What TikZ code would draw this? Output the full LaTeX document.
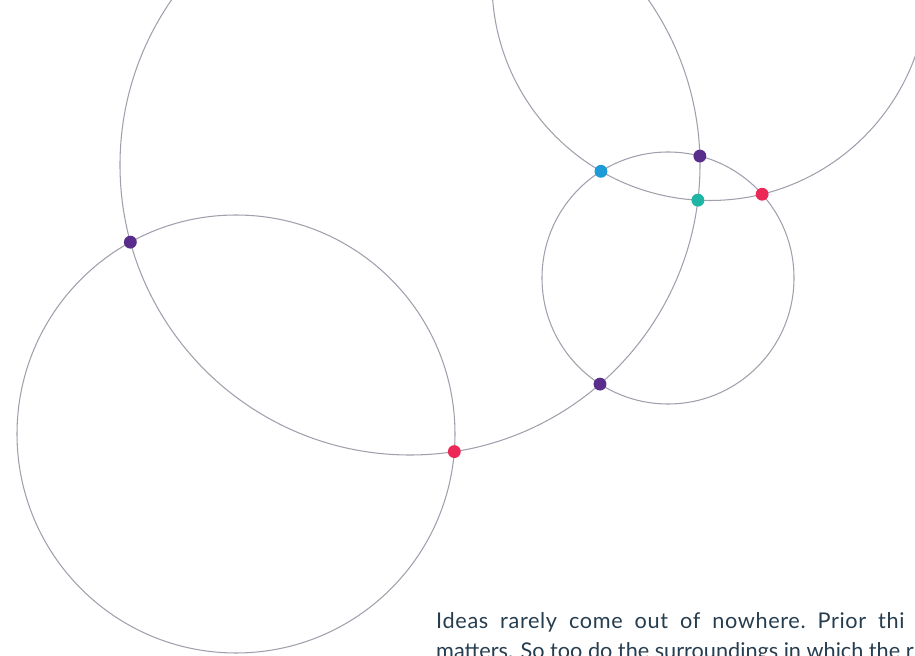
\documentclass[tikz,border=0pt]{standalone}
\usepackage{fontspec}
\usepackage{tikz}
\usetikzlibrary{intersections}
\newfontfamily\bodyfont{Lato}
\newfontfamily\bodywide{Lato}[LetterSpace=3]

\definecolor{ringgray}{HTML}{9FA0AC}
\definecolor{dotpurple}{HTML}{5A2D8C}
\definecolor{dotblue}{HTML}{1E9BD7}
\definecolor{dotteal}{HTML}{1FB5A5}
\definecolor{dotred}{HTML}{EC2956}
\definecolor{inkslate}{HTML}{263D4F}

\begin{document}
\begin{tikzpicture}[x=0.03cm, y=-0.03cm,
  ring/.style={draw=ringgray, line width=0.9pt},
  dot/.style={circle, inner sep=0pt, minimum size=11pt},
  textline/.style={anchor=base west, inner sep=0pt, text=inkslate, font=\bodyfont\fontsize{18.5}{23}\selectfont}]
\useasboundingbox (0,0) rectangle (915,656);
\clip (0,0) rectangle (915,656);

% four overlapping rings
\draw[ring, name path=lower] (236,434) circle[radius=219];
\draw[ring, name path=big] (410,165) circle[radius=290];
\draw[ring, name path=small] (668,278) circle[radius=126];
\draw[ring, name path=upper] (710,-17.5) circle[radius=218];

% crossing points
\path[name intersections={of=lower and big, name=lb}];
\path[name intersections={of=big and small, name=bs}];
\path[name intersections={of=small and upper, name=su}];
\path[name intersections={of=big and upper, name=bu}];

\node[dot, fill=dotred] (lbA) at (lb-1) {};
\node[dot, fill=dotpurple] (lbB) at (lb-2) {};
\node[dot, fill=dotpurple] (bsA) at (bs-1) {};
\node[dot, fill=dotpurple] (bsB) at (bs-2) {};
\node[dot, fill=dotblue] (suA) at (su-1) {};
\node[dot, fill=dotred] (suB) at (su-2) {};
\node[dot, fill=dotteal] (buA) at (bu-1) {};
\node[dot, fill=dotteal] (buB) at (bu-2) {};

% text running off the page
\node[textline] (lineone) at (436,628) {\bodywide Ideas\hspace{0.55em}rarely\hspace{0.55em}come\hspace{0.55em}out\hspace{0.55em}of\hspace{0.55em}nowhere.\hspace{0.55em}Prior\hspace{0.55em}thi};
\node[textline] (linetwo) at (436,658) {matters. So too do the surroundings in which the r};
\end{tikzpicture}
\end{document}
